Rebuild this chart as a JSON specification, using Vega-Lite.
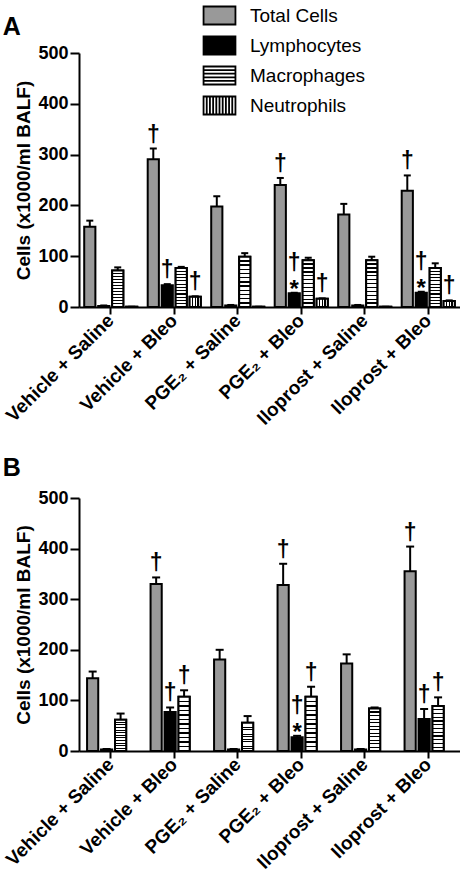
{
  "$schema": "https://vega.github.io/schema/vega-lite/v6.json",
  "background": "white",
  "padding": {"left": 2, "top": 0, "right": 0, "bottom": 0},
  "config": {
    "font": "Liberation Sans",
    "view": {"stroke": null},
    "axis": {"domainColor": "black", "domainWidth": 2, "tickColor": "black", "tickWidth": 2, "labelColor": "black", "labelFont": "Liberation Sans", "labelFontWeight": "bold", "titleColor": "black", "titleFont": "Liberation Sans", "titleFontWeight": "bold", "grid": false},
    "title": {"fontSize": 25, "fontWeight": "bold", "anchor": "start", "frame": "bounds", "color": "black", "font": "Liberation Sans"}
  },
  "datasets": {
    "a": [
      {"group": "Vehicle + Saline", "cell": "Total Cells", "value": 158, "err": 170, "sig": ""},
      {"group": "Vehicle + Saline", "cell": "Lymphocytes", "value": 2, "err": 3, "sig": ""},
      {"group": "Vehicle + Saline", "cell": "Macrophages", "value": 72, "err": 78, "sig": ""},
      {"group": "Vehicle + Saline", "cell": "Neutrophils", "value": 0.5, "err": 0.5, "sig": ""},
      {"group": "Vehicle + Bleo", "cell": "Total Cells", "value": 291, "err": 312, "sig": "d"},
      {"group": "Vehicle + Bleo", "cell": "Lymphocytes", "value": 43, "err": 45, "sig": "d"},
      {"group": "Vehicle + Bleo", "cell": "Macrophages", "value": 77, "err": 79, "sig": ""},
      {"group": "Vehicle + Bleo", "cell": "Neutrophils", "value": 20, "err": 21, "sig": "d"},
      {"group": "PGE₂ + Saline", "cell": "Total Cells", "value": 198, "err": 218, "sig": ""},
      {"group": "PGE₂ + Saline", "cell": "Lymphocytes", "value": 3, "err": 4, "sig": ""},
      {"group": "PGE₂ + Saline", "cell": "Macrophages", "value": 99, "err": 106, "sig": ""},
      {"group": "PGE₂ + Saline", "cell": "Neutrophils", "value": 0.5, "err": 0.5, "sig": ""},
      {"group": "PGE₂ + Bleo", "cell": "Total Cells", "value": 240, "err": 254, "sig": "d"},
      {"group": "PGE₂ + Bleo", "cell": "Lymphocytes", "value": 27, "err": 28, "sig": "ds"},
      {"group": "PGE₂ + Bleo", "cell": "Macrophages", "value": 92, "err": 97, "sig": ""},
      {"group": "PGE₂ + Bleo", "cell": "Neutrophils", "value": 16, "err": 17, "sig": "d"},
      {"group": "Iloprost + Saline", "cell": "Total Cells", "value": 182, "err": 203, "sig": ""},
      {"group": "Iloprost + Saline", "cell": "Lymphocytes", "value": 3, "err": 4, "sig": ""},
      {"group": "Iloprost + Saline", "cell": "Macrophages", "value": 92, "err": 99, "sig": ""},
      {"group": "Iloprost + Saline", "cell": "Neutrophils", "value": 0.5, "err": 0.5, "sig": ""},
      {"group": "Iloprost + Bleo", "cell": "Total Cells", "value": 229, "err": 259, "sig": "d"},
      {"group": "Iloprost + Bleo", "cell": "Lymphocytes", "value": 28, "err": 30, "sig": "ds"},
      {"group": "Iloprost + Bleo", "cell": "Macrophages", "value": 77, "err": 86, "sig": ""},
      {"group": "Iloprost + Bleo", "cell": "Neutrophils", "value": 12, "err": 13, "sig": "d"}
    ],
    "b": [
      {"group": "Vehicle + Saline", "cell": "Total Cells", "value": 144, "err": 157, "sig": ""},
      {"group": "Vehicle + Saline", "cell": "Lymphocytes", "value": 3, "err": 4, "sig": ""},
      {"group": "Vehicle + Saline", "cell": "Macrophages", "value": 62, "err": 74, "sig": ""},
      {"group": "Vehicle + Bleo", "cell": "Total Cells", "value": 330, "err": 343, "sig": "d"},
      {"group": "Vehicle + Bleo", "cell": "Lymphocytes", "value": 77, "err": 86, "sig": "d"},
      {"group": "Vehicle + Bleo", "cell": "Macrophages", "value": 107, "err": 120, "sig": "d"},
      {"group": "PGE₂ + Saline", "cell": "Total Cells", "value": 181, "err": 200, "sig": ""},
      {"group": "PGE₂ + Saline", "cell": "Lymphocytes", "value": 3, "err": 4, "sig": ""},
      {"group": "PGE₂ + Saline", "cell": "Macrophages", "value": 56, "err": 69, "sig": ""},
      {"group": "PGE₂ + Bleo", "cell": "Total Cells", "value": 328, "err": 370, "sig": "d"},
      {"group": "PGE₂ + Bleo", "cell": "Lymphocytes", "value": 27, "err": 30, "sig": "ds"},
      {"group": "PGE₂ + Bleo", "cell": "Macrophages", "value": 107, "err": 127, "sig": "d"},
      {"group": "Iloprost + Saline", "cell": "Total Cells", "value": 173, "err": 191, "sig": ""},
      {"group": "Iloprost + Saline", "cell": "Lymphocytes", "value": 3, "err": 4, "sig": ""},
      {"group": "Iloprost + Saline", "cell": "Macrophages", "value": 84, "err": 86, "sig": ""},
      {"group": "Iloprost + Bleo", "cell": "Total Cells", "value": 355, "err": 404, "sig": "d"},
      {"group": "Iloprost + Bleo", "cell": "Lymphocytes", "value": 63, "err": 83, "sig": "d"},
      {"group": "Iloprost + Bleo", "cell": "Macrophages", "value": 89, "err": 106, "sig": "d"}
    ]
  },
  "resolve": {"scale": {"fill": "independent"}, "legend": {"fill": "independent"}},
  "spacing": 27,
  "vconcat": [
    {
      "width": 381,
      "height": 254,
      "title": {"text": "A", "dx": 0, "dy": 40, "offset": 0},
      "data": {"name": "a"},
      "encoding": {
        "x": {"field": "group", "type": "nominal", "sort": ["Vehicle + Saline", "Vehicle + Bleo", "PGE₂ + Saline", "PGE₂ + Bleo", "Iloprost + Saline", "Iloprost + Bleo"], "scale": {"paddingInner": 0.12, "paddingOuter": 0.06}, "axis": {"title": null, "labelAngle": -45, "labelFontSize": 19, "labelAlign": "right", "labelBaseline": "middle", "labelPadding": 3, "labelLimit": 0, "tickSize": 7}},
        "xOffset": {"field": "cell", "type": "nominal", "scale": {"domain": ["Total Cells", "Lymphocytes", "Macrophages", "Neutrophils"], "paddingInner": 0.2, "paddingOuter": 0.1}},
        "y": {"field": "value", "type": "quantitative", "title": "Cells (x1000/ml BALF)", "scale": {"domain": [0, 500]}, "axis": {"values": [0, 100, 200, 300, 400, 500], "labelFontSize": 18, "titleFontSize": 19, "titleX": -46, "labelPadding": 2, "tickSize": 9}}
      },
      "layer": [
        {
          "mark": {"type": "bar", "stroke": "black", "strokeWidth": 2},
          "encoding": {
            "fill": {"field": "cell", "type": "nominal", "scale": {"domain": ["Total Cells", "Lymphocytes", "Macrophages", "Neutrophils"], "range": ["#999999", "#000000", "#ffffff", "#ffffff"]},
              "legend": {"title": null, "orient": "none", "legendX": 125, "legendY": -53, "symbolType": "M-1.1,-0.62H1.1V0.62H-1.1Z", "symbolSize": 841, "symbolStrokeColor": "black", "symbolStrokeWidth": 2, "symbolOpacity": 1, "labelFontSize": 19, "labelFont": "Liberation Sans", "labelColor": "black", "labelOffset": 15, "rowPadding": 1, "padding": 0,
                "encode": {"symbols": {"update": {
                  "fill": {"signal": "datum.value === 'Total Cells' ? '#999999' : datum.value === 'Lymphocytes' ? '#000000' : '#ffffff'"},
                  "stroke": {"value": "black"},
                  "strokeWidth": {"value": 1.8},
                  "opacity": {"value": 1},
                  "shape": {"signal": "datum.value === 'Macrophages' ? 'M-1.1,-0.62H1.1V0.62H-1.1Z M-1.1,-0.37H1.1 M-1.1,-0.124H1.1 M-1.1,0.124H1.1 M-1.1,0.37H1.1' : datum.value === 'Neutrophils' ? 'M-1.1,-0.62H1.1V0.62H-1.1Z M-0.88,-0.62V0.62 M-0.66,-0.62V0.62 M-0.44,-0.62V0.62 M-0.22,-0.62V0.62 M0,-0.62V0.62 M0.22,-0.62V0.62 M0.44,-0.62V0.62 M0.66,-0.62V0.62 M0.88,-0.62V0.62' : 'M-1.1,-0.62H1.1V0.62H-1.1Z'"}
                }}}
              }
            }
          }
        },
        {
          "transform": [{"filter": "datum.cell === 'Macrophages'"}],
          "mark": {"type": "bar", "stroke": "black", "strokeWidth": 2, "fill": {"gradient": "linear", "x1": 0, "y1": 0, "x2": 0, "y2": 1, "stops": [
            {"offset": 0, "color": "white"}, {"offset": 0.069, "color": "white"}, {"offset": 0.069, "color": "black"}, {"offset": 0.097, "color": "black"},
            {"offset": 0.097, "color": "white"}, {"offset": 0.153, "color": "white"}, {"offset": 0.153, "color": "black"}, {"offset": 0.181, "color": "black"},
            {"offset": 0.181, "color": "white"}, {"offset": 0.236, "color": "white"}, {"offset": 0.236, "color": "black"}, {"offset": 0.264, "color": "black"},
            {"offset": 0.264, "color": "white"}, {"offset": 0.319, "color": "white"}, {"offset": 0.319, "color": "black"}, {"offset": 0.347, "color": "black"},
            {"offset": 0.347, "color": "white"}, {"offset": 0.403, "color": "white"}, {"offset": 0.403, "color": "black"}, {"offset": 0.431, "color": "black"},
            {"offset": 0.431, "color": "white"}, {"offset": 0.486, "color": "white"}, {"offset": 0.486, "color": "black"}, {"offset": 0.514, "color": "black"},
            {"offset": 0.514, "color": "white"}, {"offset": 0.569, "color": "white"}, {"offset": 0.569, "color": "black"}, {"offset": 0.597, "color": "black"},
            {"offset": 0.597, "color": "white"}, {"offset": 0.653, "color": "white"}, {"offset": 0.653, "color": "black"}, {"offset": 0.681, "color": "black"},
            {"offset": 0.681, "color": "white"}, {"offset": 0.736, "color": "white"}, {"offset": 0.736, "color": "black"}, {"offset": 0.764, "color": "black"},
            {"offset": 0.764, "color": "white"}, {"offset": 0.819, "color": "white"}, {"offset": 0.819, "color": "black"}, {"offset": 0.847, "color": "black"},
            {"offset": 0.847, "color": "white"}, {"offset": 0.903, "color": "white"}, {"offset": 0.903, "color": "black"}, {"offset": 0.931, "color": "black"},
            {"offset": 0.931, "color": "white"}, {"offset": 1, "color": "white"}
          ]}},
          "encoding": {}
        },
        {
          "transform": [{"filter": "datum.cell === 'Neutrophils'"}],
          "mark": {"type": "bar", "stroke": "black", "strokeWidth": 2, "fill": {"gradient": "linear", "x1": 0, "y1": 0, "x2": 1, "y2": 0, "stops": [
            {"offset": 0, "color": "white"}, {"offset": 0.205, "color": "white"}, {"offset": 0.205, "color": "black"}, {"offset": 0.295, "color": "black"},
            {"offset": 0.295, "color": "white"}, {"offset": 0.455, "color": "white"}, {"offset": 0.455, "color": "black"}, {"offset": 0.545, "color": "black"},
            {"offset": 0.545, "color": "white"}, {"offset": 0.705, "color": "white"}, {"offset": 0.705, "color": "black"}, {"offset": 0.795, "color": "black"},
            {"offset": 0.795, "color": "white"}, {"offset": 1, "color": "white"}
          ]}},
          "encoding": {}
        },
        {
          "mark": {"type": "rule", "strokeWidth": 2, "color": "black"},
          "encoding": {"y2": {"field": "err"}}
        },
        {
          "mark": {"type": "tick", "color": "black", "thickness": 2, "size": 7, "opacity": 1},
          "encoding": {"y": {"field": "err", "type": "quantitative", "title": "Cells (x1000/ml BALF)"}}
        },
        {
          "transform": [{"filter": "datum.sig === 'd'"}],
          "mark": {"type": "text", "baseline": "alphabetic", "dy": -7, "fontSize": 23, "fontWeight": "bold", "color": "black"},
          "encoding": {"y": {"field": "err", "type": "quantitative", "title": "Cells (x1000/ml BALF)"}, "text": {"value": "†"}}
        },
        {
          "transform": [{"filter": "datum.sig === 'ds'"}],
          "mark": {"type": "text", "baseline": "alphabetic", "dy": -23, "fontSize": 23, "fontWeight": "bold", "color": "black"},
          "encoding": {"y": {"field": "err", "type": "quantitative", "title": "Cells (x1000/ml BALF)"}, "text": {"value": "†"}}
        },
        {
          "transform": [{"filter": "datum.sig === 'ds'"}],
          "mark": {"type": "text", "baseline": "alphabetic", "dy": 4, "fontSize": 24, "fontWeight": "bold", "color": "black"},
          "encoding": {"y": {"field": "err", "type": "quantitative", "title": "Cells (x1000/ml BALF)"}, "text": {"value": "*"}}
        }
      ]
    },
    {
      "width": 381,
      "height": 253,
      "title": {"text": "B", "dx": 0, "offset": 8},
      "data": {"name": "b"},
      "encoding": {
        "x": {"field": "group", "type": "nominal", "sort": ["Vehicle + Saline", "Vehicle + Bleo", "PGE₂ + Saline", "PGE₂ + Bleo", "Iloprost + Saline", "Iloprost + Bleo"], "scale": {"paddingInner": 0.21, "paddingOuter": 0.105}, "axis": {"title": null, "labelAngle": -45, "labelFontSize": 19, "labelAlign": "right", "labelBaseline": "middle", "labelPadding": 3, "labelLimit": 0, "tickSize": 7}},
        "xOffset": {"field": "cell", "type": "nominal", "scale": {"domain": ["Total Cells", "Lymphocytes", "Macrophages"], "paddingInner": 0.15, "paddingOuter": 0.075}},
        "y": {"field": "value", "type": "quantitative", "title": "Cells (x1000/ml BALF)", "scale": {"domain": [0, 500]}, "axis": {"values": [0, 100, 200, 300, 400, 500], "labelFontSize": 18, "titleFontSize": 19, "titleX": -46, "labelPadding": 2, "tickSize": 9}}
      },
      "layer": [
        {
          "mark": {"type": "bar", "stroke": "black", "strokeWidth": 2},
          "encoding": {
            "fill": {"field": "cell", "type": "nominal", "legend": null, "scale": {"domain": ["Total Cells", "Lymphocytes", "Macrophages"], "range": ["#999999", "#000000", "#ffffff"]}}
          }
        },
        {
          "transform": [{"filter": "datum.cell === 'Macrophages'"}],
          "mark": {"type": "bar", "stroke": "black", "strokeWidth": 2, "fill": {"gradient": "linear", "x1": 0, "y1": 0, "x2": 0, "y2": 1, "stops": [
            {"offset": 0, "color": "white"}, {"offset": 0.069, "color": "white"}, {"offset": 0.069, "color": "black"}, {"offset": 0.097, "color": "black"},
            {"offset": 0.097, "color": "white"}, {"offset": 0.153, "color": "white"}, {"offset": 0.153, "color": "black"}, {"offset": 0.181, "color": "black"},
            {"offset": 0.181, "color": "white"}, {"offset": 0.236, "color": "white"}, {"offset": 0.236, "color": "black"}, {"offset": 0.264, "color": "black"},
            {"offset": 0.264, "color": "white"}, {"offset": 0.319, "color": "white"}, {"offset": 0.319, "color": "black"}, {"offset": 0.347, "color": "black"},
            {"offset": 0.347, "color": "white"}, {"offset": 0.403, "color": "white"}, {"offset": 0.403, "color": "black"}, {"offset": 0.431, "color": "black"},
            {"offset": 0.431, "color": "white"}, {"offset": 0.486, "color": "white"}, {"offset": 0.486, "color": "black"}, {"offset": 0.514, "color": "black"},
            {"offset": 0.514, "color": "white"}, {"offset": 0.569, "color": "white"}, {"offset": 0.569, "color": "black"}, {"offset": 0.597, "color": "black"},
            {"offset": 0.597, "color": "white"}, {"offset": 0.653, "color": "white"}, {"offset": 0.653, "color": "black"}, {"offset": 0.681, "color": "black"},
            {"offset": 0.681, "color": "white"}, {"offset": 0.736, "color": "white"}, {"offset": 0.736, "color": "black"}, {"offset": 0.764, "color": "black"},
            {"offset": 0.764, "color": "white"}, {"offset": 0.819, "color": "white"}, {"offset": 0.819, "color": "black"}, {"offset": 0.847, "color": "black"},
            {"offset": 0.847, "color": "white"}, {"offset": 0.903, "color": "white"}, {"offset": 0.903, "color": "black"}, {"offset": 0.931, "color": "black"},
            {"offset": 0.931, "color": "white"}, {"offset": 1, "color": "white"}
          ]}},
          "encoding": {}
        },
        {
          "mark": {"type": "rule", "strokeWidth": 2, "color": "black"},
          "encoding": {"y2": {"field": "err"}}
        },
        {
          "mark": {"type": "tick", "color": "black", "thickness": 2, "size": 8, "opacity": 1},
          "encoding": {"y": {"field": "err", "type": "quantitative", "title": "Cells (x1000/ml BALF)"}}
        },
        {
          "transform": [{"filter": "datum.sig === 'd'"}],
          "mark": {"type": "text", "baseline": "alphabetic", "dy": -7, "fontSize": 23, "fontWeight": "bold", "color": "black"},
          "encoding": {"y": {"field": "err", "type": "quantitative", "title": "Cells (x1000/ml BALF)"}, "text": {"value": "†"}}
        },
        {
          "transform": [{"filter": "datum.sig === 'ds'"}],
          "mark": {"type": "text", "baseline": "alphabetic", "dy": -23, "fontSize": 23, "fontWeight": "bold", "color": "black"},
          "encoding": {"y": {"field": "err", "type": "quantitative", "title": "Cells (x1000/ml BALF)"}, "text": {"value": "†"}}
        },
        {
          "transform": [{"filter": "datum.sig === 'ds'"}],
          "mark": {"type": "text", "baseline": "alphabetic", "dy": 4, "fontSize": 24, "fontWeight": "bold", "color": "black"},
          "encoding": {"y": {"field": "err", "type": "quantitative", "title": "Cells (x1000/ml BALF)"}, "text": {"value": "*"}}
        }
      ]
    }
  ]
}
